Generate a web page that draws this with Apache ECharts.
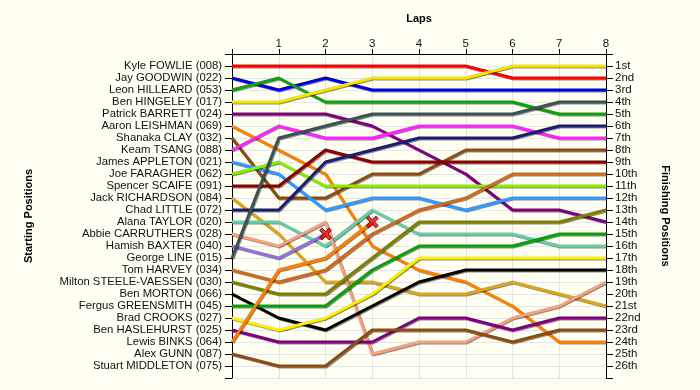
<!DOCTYPE html>
<html><head><meta charset="utf-8">
<script src="https://cdn.jsdelivr.net/npm/echarts@6/dist/echarts.min.js"></script>
<style>html,body{margin:0;padding:0;background:#fffff2;}#c{width:700px;height:390px;}</style>
</head><body><div id="c"></div>
<script>
const laps = [0,1,2,3,4,5,6,7,8];
const drivers = [
 'Kyle FOWLIE (008)','Jay GOODWIN (022)','Leon HILLEARD (053)','Ben HINGELEY (017)',
 'Patrick BARRETT (024)','Aaron LEISHMAN (069)','Shanaka CLAY (032)','Keam TSANG (088)',
 'James APPLETON (021)','Joe FARAGHER (062)','Spencer SCAIFE (091)','Jack RICHARDSON (084)',
 'Chad LITTLE (072)','Alana TAYLOR (020)','Abbie CARRUTHERS (028)','Hamish BAXTER (040)',
 'George LINE (015)','Tom HARVEY (034)','Milton STEELE-VAESSEN (030)','Ben MORTON (066)',
 'Fergus GREENSMITH (045)','Brad CROOKS (027)','Ben HASLEHURST (025)','Lewis BINKS (064)',
 'Alex GUNN (087)','Stuart MIDDLETON (075)'];
const finishLabels = ['1st','2nd','3rd','4th','5th','6th','7th','8th','9th','10th','11th','12th','13th',
 '14th','15th','16th','17th','18th','19th','20th','21st','22nd','23rd','24th','25th','26th'];
// position of each driver at each lap (lap 0 = grid); shorter = retired
const kyleFowlie      = [1,1,1,1,1,1,2,2,2];
const jayGoodwin      = [2,3,2,3,3,3,3,3,3];
const leonHilleard    = [3,2,4,4,4,4,4,5,5];
const benHingeley     = [4,4,3,2,2,2,1,1,1];
const patrickBarrett  = [5,5,5,6,8,10,13,13,14];
const aaronLeishman   = [6,8,10,16,18,19,21,24,24];
const shanakaClay     = [7,12,12,10,10,8,8,8,8];
const keamTsang       = [8,6,7,7,6,6,6,7,7];
const jamesAppleton   = [9,10,13,12,12,13,12,12,12];
const joeFaragher     = [10,9,11,11,11,11,11,11,11];
const spencerScaife   = [11,11,8,9,9,9,9,9,9];
const jackRichardson  = [12,15,19,19,20,20,19,20,21];
const chadLittle      = [13,13,9,8,7,7,7,6,6];
const alanaTaylor     = [14,14,16,13,15,15,15,16,16];
const abbieCarruthers = [15,16,14,25,24,24,22,21,19];
const hamishBaxter    = [16,17,15];
const georgeLine      = [17,7,6,5,5,5,5,4,4];
const tomHarvey       = [18,19,18,15,13,12,10,10,10];
const miltonSteele    = [19,20,20,17,14,14,14,14,13];
const benMorton       = [20,22,23,21,19,18,18,18,18];
const fergusGreensmith= [21,21,21,18,16,16,16,15,15];
const bradCrooks      = [22,23,22,20,17,17,17,17,17];
const benHaslehurst   = [23,24,24,24,22,22,23,22,22];
const lewisBinks      = [24,18,17,14];
const alexGunn        = [25,26,26,23,23,23,24,23,23];
const stuartMiddleton = [];
const positions = [kyleFowlie,jayGoodwin,leonHilleard,benHingeley,patrickBarrett,aaronLeishman,
 shanakaClay,keamTsang,jamesAppleton,joeFaragher,spencerScaife,jackRichardson,chadLittle,alanaTaylor,
 abbieCarruthers,hamishBaxter,georgeLine,tomHarvey,miltonSteele,benMorton,fergusGreensmith,bradCrooks,
 benHaslehurst,lewisBinks,alexGunn,stuartMiddleton];
const lineColors = ['#ff0000','#0000dd','#12a012','#f5e400','#800080','#ff8000','#8b4c13','#ff22ff',
 '#3399ff','#88ee00','#8b0000','#daa520','#1c1c70','#66cdaa','#f5a080','#9370db','#3a5252','#d2691e',
 '#808000','#000000','#0aa00a','#ffee00','#800080','#ff8000','#8b4c13','#888888'];

const FONT = "'Liberation Sans', Arial, sans-serif";
const series = [];
const retired = [];
positions.forEach((p, i) => {
  if (!p.length) return;
  series.push({
    type: 'line', name: drivers[i], symbol: 'none', animation: false,
    data: p.map((v, k) => [laps[k], v]),
    lineStyle: { color: lineColors[i], width: 3, shadowColor: 'rgba(0,0,0,0.45)', shadowOffsetX: 1, shadowOffsetY: 1, shadowBlur: 0 },
    z: 2
  });
  if (p.length < laps.length) retired.push([laps[p.length - 1], p[p.length - 1]]);
});
series.push({
  type: 'scatter', data: retired, animation: false, z: 5,
  symbol: 'path://M2,0 L5,3 L8,0 L10,2 L7,5 L10,8 L8,10 L5,7 L2,10 L0,8 L3,5 L0,2 Z',
  symbolSize: 12,
  itemStyle: { color: '#ee0000', borderColor: '#550000', borderWidth: 1 }
});

const chart = echarts.init(document.getElementById('c'), null, { renderer: 'canvas' });
chart.setOption({
  backgroundColor: '#fffff2',
  textStyle: { fontFamily: FONT },
  grid: { left: 232, right: 94, top: 54, height: 324 },
  xAxis: {
    type: 'value', position: 'top', min: 0, max: 8, interval: 1,
    name: 'Laps', nameLocation: 'middle', nameGap: 30,
    nameTextStyle: { fontWeight: 'bold', fontSize: 11, color: '#000', fontFamily: FONT },
    axisLine: { show: true, lineStyle: { color: '#000', width: 1 } },
    axisTick: { show: true, length: 5, lineStyle: { color: '#000' } },
    axisLabel: { fontSize: 11.5, color: '#111', margin: 4, fontFamily: FONT, formatter: v => v === 0 ? '' : String(v) },
    splitLine: { show: true, lineStyle: { color: '#e4e4e4', width: 1 } }
  },
  yAxis: [{
    type: 'value', position: 'left', inverse: true, min: 0, max: 27, interval: 1,
    name: 'Starting Positions', nameLocation: 'middle', nameGap: 198,
    nameTextStyle: { fontWeight: 'bold', fontSize: 11, color: '#000', fontFamily: FONT },
    axisLine: { show: true, lineStyle: { color: '#000', width: 1 } },
    axisTick: { show: true, length: 7, lineStyle: { color: '#000' } },
    axisLabel: { fontSize: 11.3, color: '#111', margin: 10, fontFamily: FONT,
      formatter: v => (v >= 1 && v <= drivers.length) ? drivers[v - 1] : '' },
    splitLine: { show: true, lineStyle: { color: '#e4e4e4', width: 1 } }
  }, {
    type: 'value', position: 'right', inverse: true, min: 0, max: 27, interval: 1,
    name: 'Finishing Positions', nameLocation: 'middle', nameGap: 54, nameRotate: -90,
    nameTextStyle: { fontWeight: 'bold', fontSize: 11, color: '#000', fontFamily: FONT },
    axisLine: { show: true, lineStyle: { color: '#000', width: 1 } },
    axisTick: { show: true, length: 7, lineStyle: { color: '#000' } },
    axisLabel: { fontSize: 11.5, color: '#111', margin: 9, fontFamily: FONT,
      formatter: v => (v >= 1 && v <= finishLabels.length) ? finishLabels[v - 1] : '' },
    splitLine: { show: false }
  }],
  series: series
});
</script></body></html>
